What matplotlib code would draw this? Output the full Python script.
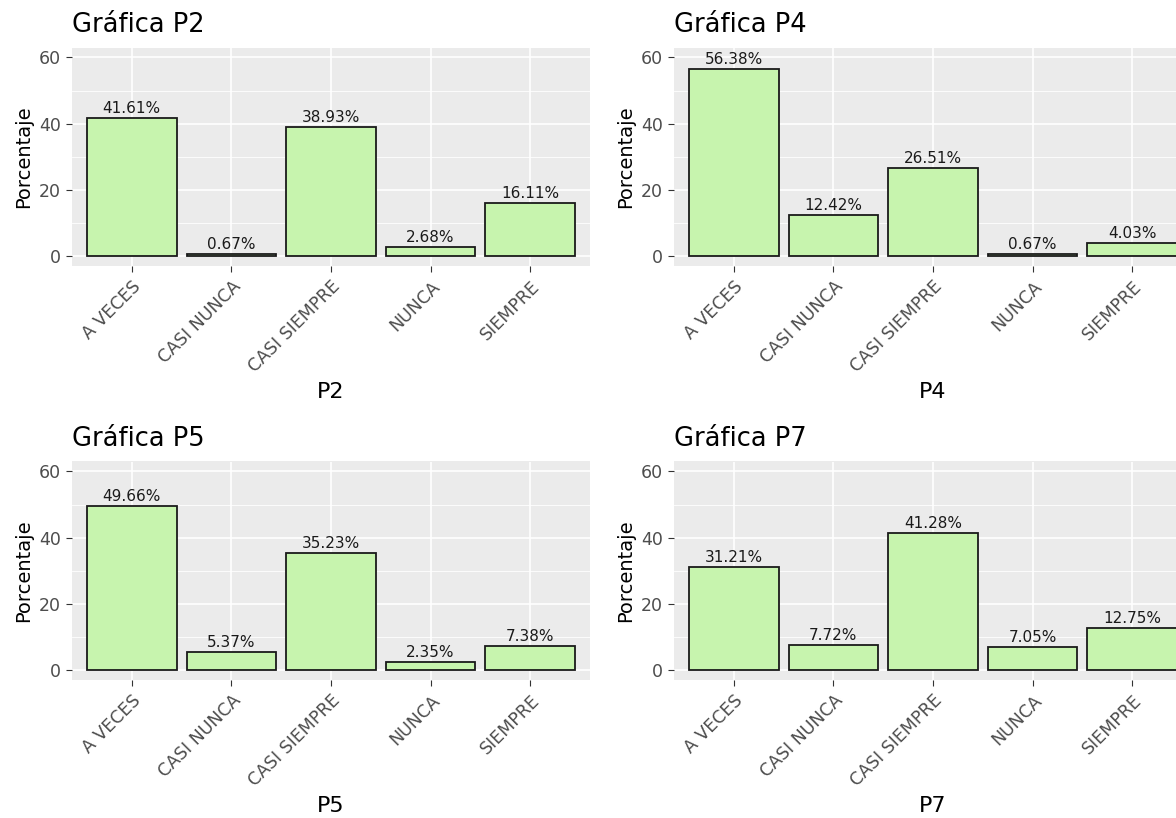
import matplotlib
matplotlib.use("Agg")
import matplotlib.pyplot as plt
from matplotlib.ticker import MultipleLocator

# datos
categorias = ["A VECES", "CASI NUNCA", "CASI SIEMPRE", "NUNCA", "SIEMPRE"]
preguntas = ["P2", "P4", "P5", "P7"]
p2 = [41.61, 0.67, 38.93, 2.68, 16.11]
p4 = [56.38, 12.42, 26.51, 0.67, 4.03]
p5 = [49.66, 5.37, 35.23, 2.35, 7.38]
p7 = [31.21, 7.72, 41.28, 7.05, 12.75]
valores = [p2, p4, p5, p7]

W, H = 1176, 818
fig = plt.figure(figsize=(W / 100, H / 100), dpi=100)
fig.patch.set_facecolor("white")

# posiciones de los paneles en pixeles (izq, arriba, ancho, alto)
aw, ah = 518, 218.5
paneles = [(72, 47.5), (674, 47.5), (72, 461.5), (674, 461.5)]

for k in range(4):
    x0, y0 = paneles[k]
    ax = fig.add_axes([x0 / W, 1 - (y0 + ah) / H, aw / W, ah / H])
    ax.set_facecolor("#EBEBEB")
    for s in ax.spines.values():
        s.set_visible(False)

    pos = list(range(len(categorias)))
    ax.bar(pos, valores[k], width=0.9, color="#C7F4AE", edgecolor="#1a1a1a",
           linewidth=1.3, zorder=3)
    for i in pos:
        ax.annotate("%.2f%%" % valores[k][i], (i, valores[k][i]),
                    xytext=(0, 3.6), textcoords="offset points",
                    ha="center", va="baseline", fontsize=11,
                    color="#1a1a1a", zorder=4)

    ax.set_xlim(-0.6, 4.6)
    ax.set_ylim(-3, 63)
    ax.set_yticks([0, 20, 40, 60])
    ax.yaxis.set_minor_locator(MultipleLocator(10))
    ax.set_xticks(pos)
    ax.set_xticklabels(categorias, rotation=45, ha="right", va="top",
                       rotation_mode="anchor")

    ax.grid(True, which="major", color="white", linewidth=1.2, zorder=0)
    ax.grid(True, which="minor", axis="y", color="white", linewidth=0.6, zorder=0)
    ax.set_axisbelow(True)

    ax.tick_params(axis="both", which="major", length=4.3, width=0.8,
                   color="#333333", labelcolor="#4D4D4D", labelsize=12.5)
    ax.tick_params(axis="y", pad=3.5)
    ax.tick_params(axis="x", pad=4.0)
    ax.tick_params(axis="y", which="minor", length=0)

    # titulos
    ax.text(0, 1 + 15.5 / ah, "Gráfica " + preguntas[k], transform=ax.transAxes,
            ha="left", va="baseline", fontsize=18.5, color="black")
    ax.text(-48 / aw, 0.5, "Porcentaje", transform=ax.transAxes, rotation=90,
            ha="center", va="center", fontsize=14, color="black")
    ax.text(0.5, -126 / ah, preguntas[k], transform=ax.transAxes,
            ha="center", va="center", fontsize=16, color="black")

fig.savefig("out.png", dpi=100)
